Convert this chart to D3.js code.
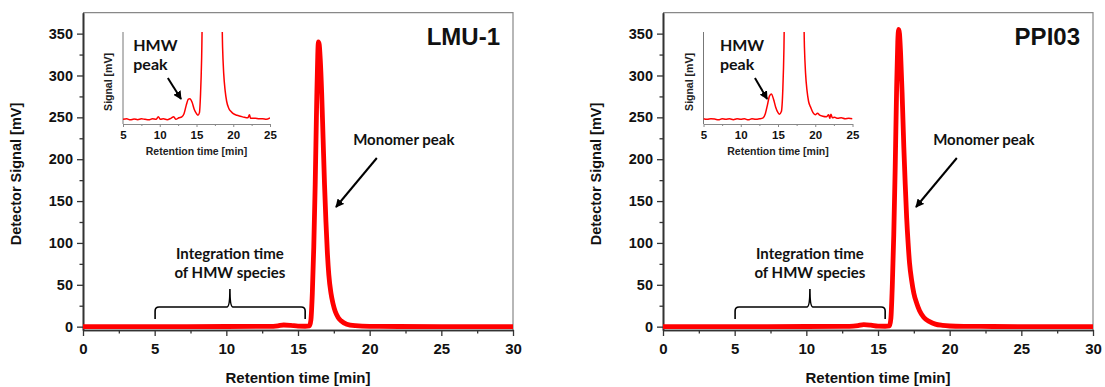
<!DOCTYPE html>
<html>
<head>
<meta charset="utf-8">
<style>
  body { margin: 0; background: #fff; }
  svg { display: block; }
  .tick text { font-family: "Liberation Sans", Arial, sans-serif; font-weight: bold; }
</style>
</head>
<body>

<script src="https://d3js.org/d3.v7.min.js"></script>

<script>

// ---- data ----
const xTicks = [0, 5, 10, 15, 20, 25, 30];
const xMinor = [2.5, 7.5, 12.5, 17.5, 22.5, 27.5];
const yTicks = [0, 50, 100, 150, 200, 250, 300, 350];
const yMinor = [25, 75, 125, 175, 225, 275, 325];
const insetTicks = [5, 10, 15, 20, 25];
const insetMinor = [7.5, 12.5, 17.5, 22.5];

// main chromatograms (time in min, signal in mV)
const timeLMU   = [0, 5, 10, 13, 13.6, 14, 14.5, 15, 15.5, 15.8, 15.9, 16.0, 16.1, 16.2, 16.3, 16.38, 16.42, 16.48, 16.55, 16.65, 16.75, 16.85, 16.95, 17.05, 17.15, 17.3, 17.45, 17.6, 17.8, 18.0, 18.4, 19, 20, 22, 25, 30];
const signalLMU = [0, 0, 0.2, 0.3, 1, 2, 1.5, 0.6, 0.5, 1, 8, 40, 95, 170, 265, 325, 340, 337, 320, 280, 225, 170, 125, 88, 62, 40, 27, 18, 11, 7, 3, 1.2, 0.4, 0.2, 0, 0];

const timePPI   = [0, 5, 10, 13, 13.6, 14, 14.5, 15, 15.5, 15.8, 15.9, 16.0, 16.1, 16.2, 16.3, 16.38, 16.44, 16.5, 16.58, 16.68, 16.8, 16.9, 17.0, 17.1, 17.2, 17.35, 17.5, 17.7, 17.9, 18.2, 18.6, 19.0, 19.5, 20, 21, 23, 30];
const signalPPI = [0, 0, 0.2, 0.3, 1.2, 2.5, 1.8, 0.6, 0.5, 1, 10, 50, 110, 190, 285, 340, 355, 350, 325, 280, 215, 170, 130, 100, 76, 55, 40, 28, 19, 11, 6, 3, 1.5, 0.8, 0.4, 0.2, 0];

// zoomed insets (signal in mV, monomer peak runs off scale)
const insetTimeLMU   = [5, 5.5, 6, 6.5, 7, 7.5, 8, 8.5, 9, 9.5, 9.8, 10.1, 10.5, 11, 11.5, 11.9, 12.2, 12.6, 13, 13.3, 13.6, 13.9, 14.1, 14.4, 14.7, 15.0, 15.2, 15.4, 15.55, 15.7, 15.85, 18.4, 18.55, 18.7, 18.9, 19.1, 19.4, 19.7, 20, 20.5, 21, 21.5, 22, 22.2, 22.35, 23, 23.5, 24, 24.5, 25];
const insetSignalLMU = [0.05, 0.1, 0.0, 0.08, 0.02, 0.1, 0.05, 0.0, 0.1, 0.05, 0.3, 0.05, 0.1, 0.02, 0.15, 0.3, 0.05, 0.2, 0.3, 0.6, 1.4, 2.0, 2.05, 1.7, 1.0, 0.6, 0.45, 0.7, 2.5, 6, 12, 12, 7, 4.5, 2.8, 1.8, 1.1, 0.8, 0.6, 0.45, 0.35, 0.25, 0.2, 0.5, 0.15, 0.15, 0.1, 0.12, 0.05, 0.2];

const insetTimePPI   = [5, 5.5, 6, 6.5, 7, 7.5, 8, 8.5, 9, 9.5, 10, 10.5, 11, 11.5, 12, 12.5, 13, 13.3, 13.6, 13.85, 14.1, 14.4, 14.7, 15.0, 15.2, 15.45, 15.65, 15.8, 15.9, 18.4, 18.55, 18.7, 18.9, 19.1, 19.4, 19.7, 20.0, 20.3, 20.6, 21, 21.5, 21.8, 21.95, 22.1, 22.3, 22.6, 23, 23.5, 24, 24.5, 25];
const insetSignalPPI = [0.1, 0.05, 0.1, 0.08, 0.0, 0.1, 0.05, 0.1, 0.02, 0.1, 0.05, 0.1, 0.0, 0.1, 0.05, 0.1, 0.2, 0.6, 1.5, 2.3, 2.5, 2.0, 1.2, 0.7, 0.55, 0.8, 3, 7, 12, 12, 7, 4.5, 2.8, 1.8, 1.2, 0.7, 0.5, 0.65, 0.45, 0.35, 0.3, 0.5, 0.15, 0.55, 0.2, 0.25, 0.15, 0.2, 0.1, 0.15, 0.1];

const panels = [
  { name: 'LMU-1', left: 83,  time: timeLMU, signal: signalLMU, insetTime: insetTimeLMU, insetSignal: insetSignalLMU,
    inset: { left: 123, right: 270 }, hmwShift: 0 },
  { name: 'PPI03', left: 663, time: timePPI, signal: signalPPI, insetTime: insetTimePPI, insetSignal: insetSignalPPI,
    inset: { left: 703.5, right: 852.5 }, hmwShift: 6 }
];

// ---- layout ----
const width = 1105;
const height = 387;
const plotW = 430;
const plotTop = 12.7;
const plotBottom = 330;
const insetTop = 32;
const insetBottom = 124;

const calibri = 'Lato, "Open Sans", sans-serif';
const arial = '"Liberation Sans", Arial, sans-serif';

const svg = d3.select('body')
              .append('svg')
              .attr('width', width)
              .attr('height', height);

const defs = svg.append('defs');
defs.append('marker')
    .attr('id', 'head')
    .attr('viewBox', '0 0 10 10')
    .attr('refX', 9).attr('refY', 5)
    .attr('markerWidth', 4.2).attr('markerHeight', 4.2)
    .attr('orient', 'auto')
    .append('path')
      .attr('d', 'M0,0 L10,5 L0,10 Z')
      .attr('fill', 'black');

panels.forEach((p, i) => {

  const x = d3.scaleLinear().domain([0, 30]).range([p.left, p.left + plotW]);
  const y = d3.scaleLinear().domain([-4, 375]).range([plotBottom, plotTop]);

  const g = svg.append('g');

  // frame (top/right)
  g.append('path')
    .attr('d', `M${p.left},${plotTop} H${p.left + plotW} V${plotBottom}`)
    .attr('fill', 'none')
    .attr('stroke', '#888')
    .attr('stroke-width', 1.2);

  // axes
  const xAxis = g.append('g')
    .attr('transform', `translate(0,${plotBottom})`)
    .call(d3.axisBottom(x).tickValues(xTicks).tickSize(6).tickPadding(7).tickSizeOuter(0));
  g.append('g')
    .attr('transform', `translate(0,${plotBottom})`)
    .call(d3.axisBottom(x).tickValues(xMinor).tickSize(3.5).tickFormat('').tickSizeOuter(0));
  const yAxis = g.append('g')
    .attr('transform', `translate(${p.left},0)`)
    .call(d3.axisLeft(y).tickValues(yTicks).tickSize(6).tickPadding(4).tickSizeOuter(0));
  g.append('g')
    .attr('transform', `translate(${p.left},0)`)
    .call(d3.axisLeft(y).tickValues(yMinor).tickSize(3.5).tickFormat('').tickSizeOuter(0));

  g.selectAll('.domain').attr('stroke', '#333').attr('stroke-width', 1.6);
  g.selectAll('.tick line').attr('stroke', '#333').attr('stroke-width', 1.3);
  xAxis.selectAll('text').attr('font-size', 15).attr('fill', '#111');
  yAxis.selectAll('text').attr('font-size', 14.5).attr('fill', '#111');

  // axis titles
  g.append('text')
    .attr('x', p.left + 215)
    .attr('y', 383)
    .attr('text-anchor', 'middle')
    .attr('font-family', arial)
    .attr('font-weight', 'bold')
    .attr('font-size', 15)
    .attr('fill', '#111')
    .text('Retention time [min]');
  g.append('text')
    .attr('transform', `translate(${p.left - 62},174) rotate(-90)`)
    .attr('text-anchor', 'middle')
    .attr('font-family', arial)
    .attr('font-weight', 'bold')
    .attr('font-size', 14.5)
    .attr('fill', '#111')
    .text('Detector Signal [mV]');

  // sample name
  g.append('text')
    .attr('x', p.left + plotW - 13)
    .attr('y', 45)
    .attr('text-anchor', 'end')
    .attr('font-family', arial)
    .attr('font-weight', 'bold')
    .attr('font-size', 24)
    .attr('fill', '#111')
    .text(p.name);

  // chromatogram
  const rows = p.time.map((t, k) => ({ t: t, v: p.signal[k] }));
  g.append('path')
    .datum(rows)
    .attr('d', d3.line().x(d => x(d.t)).y(d => y(d.v)).curve(d3.curveMonotoneX))
    .attr('fill', 'none')
    .attr('stroke', '#ff0000')
    .attr('stroke-width', 4.8)
    .attr('stroke-linejoin', 'round');

  // monomer annotation
  g.append('text')
    .attr('x', x(18.85))
    .attr('y', 145)
    .attr('font-family', calibri)
    .attr('font-weight', 'bold')
    .attr('font-size', 15)
    .attr('fill', '#111')
    .text('Monomer peak');
  g.append('line')
    .attr('x1', x(20.5)).attr('y1', 158)
    .attr('x2', x(17.65)).attr('y2', 207)
    .attr('stroke', 'black')
    .attr('stroke-width', 2)
    .attr('marker-end', 'url(#head)');

  // integration bracket
  const b0 = x(5.03), b1 = x(15.5), bc = x(10.25);
  const yh = 307, ye = 319, yt = 289;
  g.append('path')
    .attr('d', `M${b0},${ye} V${yh + 4} Q${b0},${yh} ${b0 + 4},${yh} H${bc - 3} Q${bc},${yh} ${bc},${yt}` +
               ` Q${bc},${yh} ${bc + 3},${yh} H${b1 - 4} Q${b1},${yh} ${b1},${yh + 4} V${ye}`)
    .attr('fill', 'none')
    .attr('stroke', 'black')
    .attr('stroke-width', 1.6);
  g.append('text')
    .attr('x', bc)
    .attr('y', 259)
    .attr('text-anchor', 'middle')
    .attr('font-family', calibri)
    .attr('font-weight', 'bold')
    .attr('font-size', 15)
    .attr('fill', '#111')
    .text('Integration time');
  g.append('text')
    .attr('x', bc)
    .attr('y', 278)
    .attr('text-anchor', 'middle')
    .attr('font-family', calibri)
    .attr('font-weight', 'bold')
    .attr('font-size', 15)
    .attr('fill', '#111')
    .text('of HMW species');

  // ---- inset ----
  const ix = d3.scaleLinear().domain([5, 25]).range([p.inset.left, p.inset.right]);
  const iy = d3.scaleLinear().domain([-0.4, 8.5]).range([insetBottom, insetTop]);

  defs.append('clipPath')
    .attr('id', 'clip' + i)
    .append('rect')
      .attr('x', p.inset.left)
      .attr('y', insetTop)
      .attr('width', p.inset.right - p.inset.left)
      .attr('height', insetBottom - insetTop);

  const ig = svg.append('g');

  ig.append('line')
    .attr('x1', p.inset.left).attr('x2', p.inset.left)
    .attr('y1', insetTop).attr('y2', insetBottom)
    .attr('stroke', '#777')
    .attr('stroke-width', 1);

  const ia = ig.append('g')
    .attr('transform', `translate(0,${insetBottom})`)
    .call(d3.axisBottom(ix).tickValues(insetTicks).tickSize(3).tickPadding(4).tickSizeOuter(0));
  ig.append('g')
    .attr('transform', `translate(0,${insetBottom})`)
    .call(d3.axisBottom(ix).tickValues(insetMinor).tickSize(2).tickFormat('').tickSizeOuter(0));
  ig.selectAll('.domain').attr('stroke', '#888').attr('stroke-width', 1);
  ig.selectAll('.tick line').attr('stroke', '#888');
  ia.selectAll('text').attr('font-size', 11.5).attr('fill', '#111');

  ig.append('text')
    .attr('x', (p.inset.left + p.inset.right) / 2)
    .attr('y', 155)
    .attr('text-anchor', 'middle')
    .attr('font-family', arial)
    .attr('font-weight', 'bold')
    .attr('font-size', 10.5)
    .attr('fill', '#222')
    .text('Retention time [min]');
  ig.append('text')
    .attr('transform', `translate(${p.inset.left - 11},82) rotate(-90)`)
    .attr('text-anchor', 'middle')
    .attr('font-family', arial)
    .attr('font-weight', 'bold')
    .attr('font-size', 10.5)
    .attr('fill', '#222')
    .text('Signal [mV]');

  const irows = p.insetTime.map((t, k) => ({ t: t, v: p.insetSignal[k] }));
  ig.append('path')
    .datum(irows)
    .attr('clip-path', `url(#clip${i})`)
    .attr('d', d3.line().x(d => ix(d.t)).y(d => iy(d.v)).curve(d3.curveMonotoneX))
    .attr('fill', 'none')
    .attr('stroke', '#ff0000')
    .attr('stroke-width', 1.5);

  // HMW label + arrow
  ig.append('text')
    .attr('x', ix(6.4) + p.hmwShift)
    .attr('y', 51)
    .attr('font-family', calibri)
    .attr('font-weight', 'bold')
    .attr('font-size', 16)
    .attr('fill', '#111')
    .text('HMW');
  ig.append('text')
    .attr('x', ix(6.4) + p.hmwShift)
    .attr('y', 70)
    .attr('font-family', calibri)
    .attr('font-weight', 'bold')
    .attr('font-size', 16)
    .attr('fill', '#111')
    .text('peak');
  ig.append('line')
    .attr('x1', ix(11.1) + p.hmwShift).attr('y1', 78)
    .attr('x2', ix(12.9) + p.hmwShift * 0.8).attr('y2', 99)
    .attr('stroke', 'black')
    .attr('stroke-width', 2)
    .attr('marker-end', 'url(#head)');
});

</script>
</body>
</html>
